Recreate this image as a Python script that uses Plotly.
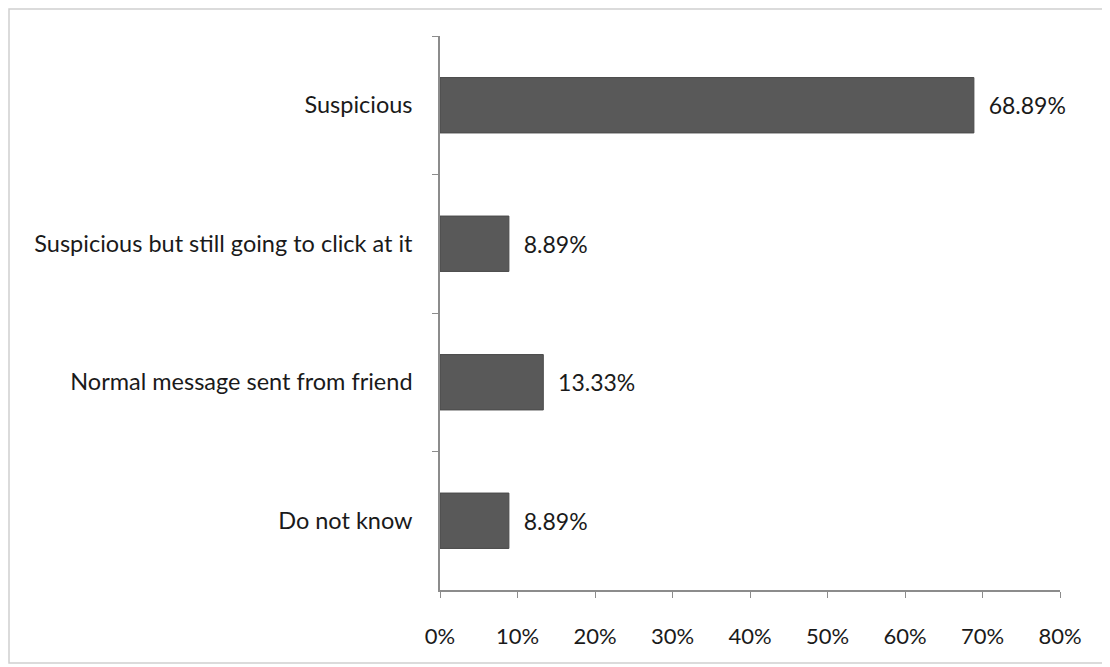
import plotly.graph_objects as go

categories = ["Suspicious", "Suspicious but still going to click at it",
              "Normal message sent from friend", "Do not know"]
values = [68.89, 8.89, 13.33, 8.89]
labels = ["68.89%", "8.89%", "13.33%", "8.89%"]
tick_vals = [0, 10, 20, 30, 40, 50, 60, 70, 80]
tick_text = ["0%", "10%", "20%", "30%", "40%", "50%", "60%", "70%", "80%"]

FONT = "Lato, Open Sans, sans-serif"

fig = go.Figure(go.Bar(
    y=categories, x=values, orientation="h",
    marker=dict(color="#595959", line=dict(color="#4a4a4a", width=1)),
    text=labels, texttemplate="\u00a0\u00a0%{text}",
    textposition="outside", cliponaxis=False,
    textfont=dict(family=FONT, size=23, color="#1a1a1a"),
))

# page body adds an 8px offset, so the figure is slightly smaller
W, H = 1102, 659
L, R, T, B = 432, 50, 28, 77
pw, ph = W - L - R, H - T - B

fig.update_layout(
    width=W, height=H,
    margin=dict(l=L, r=R, t=T, b=B),
    paper_bgcolor="white", plot_bgcolor="white",
    bargap=0.6, showlegend=False,
    font=dict(family=FONT, size=22, color="#1a1a1a"),
    xaxis=dict(range=[0, 80], tickvals=tick_vals, ticktext=tick_text,
               showgrid=False, zeroline=False, showline=True,
               linecolor="#8c8c8c", linewidth=1.5,
               ticks="outside", ticklen=6, tickcolor="#8c8c8c",
               tickfont=dict(family=FONT, size=22, color="#1a1a1a"),
               ticklabelstandoff=20),
    yaxis=dict(categoryorder="array", categoryarray=categories,
               autorange="reversed", showgrid=False, zeroline=False,
               showline=True, linecolor="#8c8c8c", linewidth=1.5,
               ticks="outside", ticklen=6, tickcolor="#8c8c8c",
               tickson="boundaries",
               tickfont=dict(family=FONT, size=23.5, color="#1a1a1a"),
               ticklabelstandoff=21),
    shapes=[dict(type="rect", xref="paper", yref="paper",
                 x0=(1 - L) / pw, x1=(W - 5 - L) / pw,
                 y0=(H - B - (H - 4)) / ph, y1=(H - B - 1) / ph,
                 line=dict(color="#d0d0d0", width=1.5), layer="below")],
)

fig.write_html("out.html")
